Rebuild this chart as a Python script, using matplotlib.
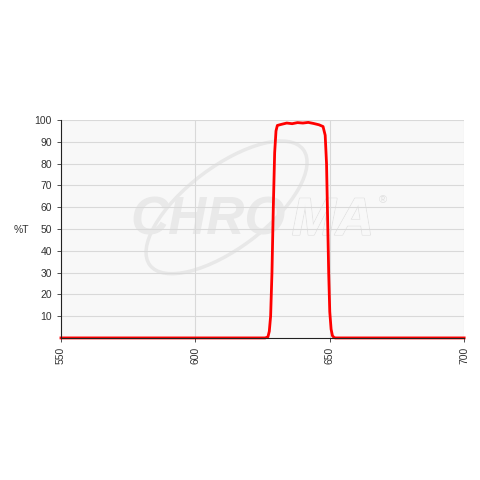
import matplotlib
matplotlib.use("Agg")
import matplotlib.pyplot as plt
from matplotlib.patches import Ellipse
from matplotlib import patheffects

plt.rcParams['font.family'] = ['Liberation Sans', 'DejaVu Sans']

wavelength = [550, 626, 627, 627.5, 628, 628.5, 629, 629.5, 630, 630.5, 632, 634, 636,
              638, 640, 642, 644, 646, 647.5, 648.3, 648.8, 649.2, 649.6, 650, 650.5,
              651, 651.5, 652, 700]
transmission = [0, 0, 0.5, 3, 10, 30, 60, 85, 95, 97.5, 98, 98.6, 98.3, 98.8, 98.6, 98.9,
                 98.4, 97.8, 97, 93, 80, 55, 30, 12, 4, 1, 0.3, 0, 0]
x_ticks = [550, 600, 650, 700]
y_ticks = [10, 20, 30, 40, 50, 60, 70, 80, 90, 100]

fig = plt.figure(figsize=(4.8, 4.8), dpi=100)
ax = fig.add_axes([0.127, 0.296, 0.840, 0.454])
ax.set_facecolor('#f8f8f8')
ax.set_xlim(550, 700)
ax.set_ylim(0, 100)
ax.set_xticks(x_ticks)
ax.set_xticklabels([str(v) for v in x_ticks], rotation=90)
ax.set_yticks(y_ticks)
ax.grid(True, color='#d9d9d9', linewidth=0.8)
ax.set_axisbelow(True)
for s in ['top', 'right']:
    ax.spines[s].set_visible(False)
for s in ['left', 'bottom']:
    ax.spines[s].set_color('#222222')
    ax.spines[s].set_linewidth(0.8)
    ax.spines[s].set_zorder(4)
ax.tick_params(axis='both', labelsize=7.5, colors='#333333', length=3, width=0.6)

# watermark (drawn in figure coordinates, beneath the grid)
ell = Ellipse((0.472, 0.568), 0.40, 0.17, angle=37, transform=fig.transFigure,
              fill=False, edgecolor='#e8e8e8', linewidth=2.5, zorder=0.2)
ax.add_artist(ell)
ax.text(0.595, 0.540, 'CHRO', transform=fig.transFigure, ha='right', va='center',
        fontsize=38, fontweight='bold', style='italic', color='#e9e9e9', zorder=0.3)
t = ax.text(0.608, 0.540, 'MA', transform=fig.transFigure, ha='left', va='center',
            fontsize=38, fontweight='bold', style='italic', color='#f8f8f8', zorder=0.3)
t.set_path_effects([patheffects.withStroke(linewidth=1.2, foreground='#e2e2e2'),
                    patheffects.Normal()])
ax.text(0.798, 0.583, '®', transform=fig.transFigure, ha='center', va='center',
        fontsize=8, color='#e0e0e0', zorder=0.3)

ax.plot(wavelength, transmission, color='#ff0000', linewidth=2, clip_on=False, zorder=3)

fig.text(0.045, 0.52, '%T', fontsize=7.5, color='#333333', ha='center', va='center')

fig.savefig('out.png', dpi=100)
